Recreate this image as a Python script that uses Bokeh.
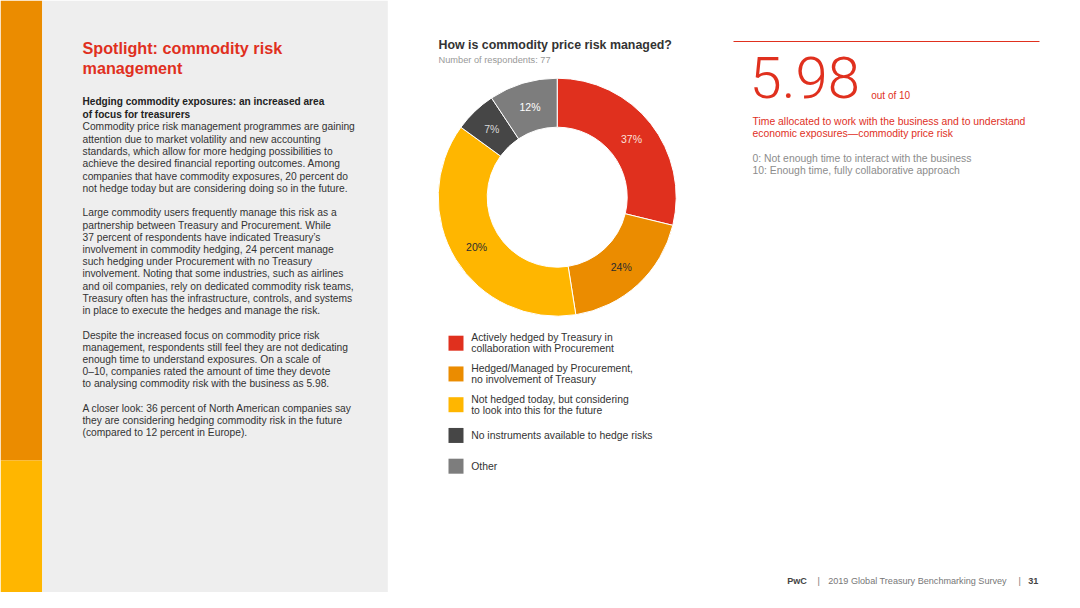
import math
from bokeh.plotting import figure
from bokeh.models import Range1d
from bokeh.core.properties import value
from bokeh.embed import file_html
from bokeh.resources import INLINE

# ---------------- data ----------------
categories = [
    "Actively hedged by Treasury in\ncollaboration with Procurement",
    "Hedged/Managed by Procurement,\nno involvement of Treasury",
    "Not hedged today, but considering\nto look into this for the future",
    "No instruments available to hedge risks",
    "Other",
]
# arc share of each slice as drawn in the reference (percent of the ring)
slice_shares = [28.8, 18.7, 37.5, 5.7, 9.3]
# percentages printed on the slices
slice_labels = ["37%", "24%", "20%", "7%", "12%"]
slice_colors = ["#E0301E", "#EB8C00", "#FFB600", "#464646", "#7D7D7D"]
label_colors = ["#FBE0DC", "#2D2D2D", "#2D2D2D", "#D9D9D9", "#FFFFFF"]
respondents = 77
score = 5.98
score_max = 10

title_lines = ["Spotlight: commodity risk", "management"]
heading_lines = ["Hedging commodity exposures: an increased area", "of focus for treasurers"]
para1 = [
    "Commodity price risk management programmes are gaining",
    "attention due to market volatility and new accounting",
    "standards, which allow for more hedging possibilities to",
    "achieve the desired financial reporting outcomes. Among",
    "companies that have commodity exposures, 20 percent do",
    "not hedge today but are considering doing so in the future.",
]
para2 = [
    "Large commodity users frequently manage this risk as a",
    "partnership between Treasury and Procurement. While",
    "37 percent of respondents have indicated Treasury\u2019s",
    "involvement in commodity hedging, 24 percent manage",
    "such hedging under Procurement with no Treasury",
    "involvement. Noting that some industries, such as airlines",
    "and oil companies, rely on dedicated commodity risk teams,",
    "Treasury often has the infrastructure, controls, and systems",
    "in place to execute the hedges and manage the risk.",
]
para3 = [
    "Despite the increased focus on commodity price risk",
    "management, respondents still feel they are not dedicating",
    "enough time to understand exposures. On a scale of",
    "0\u201310, companies rated the amount of time they devote",
    "to analysing commodity risk with the business as 5.98.",
]
para4 = [
    "A closer look: 36 percent of North American companies say",
    "they are considering hedging commodity risk in the future",
    "(compared to 12 percent in Europe).",
]
chart_title = "How is commodity price risk managed?"
score_caption = ["Time allocated to work with the business and to understand",
                 "economic exposures\u2014commodity price risk"]
scale_notes = ["0: Not enough time to interact with the business",
               "10: Enough time, fully collaborative approach"]
footer_parts = ["PwC", "|", "2019 Global Treasury Benchmarking Survey", "|", "31"]

# ---------------- layout ----------------
H = 608
FONT = "Liberation Sans"
RED = "#E0301E"


def Y(y):
    return H - y


p = figure(width=1064, height=592, x_range=Range1d(0, 1064), y_range=Range1d(16, 608),
           output_backend="svg", toolbar_location=None, min_border=0)
p.axis.visible = False
p.grid.visible = False
p.outline_line_color = None
p.background_fill_color = "white"
p.border_fill_color = "white"

# side panels
p.quad(left=[0], right=[41.7], top=[Y(0)], bottom=[Y(460)], fill_color="#EB8C00", line_color=None)
p.quad(left=[0], right=[41.7], top=[Y(460)], bottom=[Y(608)], fill_color="#FFB600", line_color=None)
p.quad(left=[41.7], right=[387.3], top=[Y(0)], bottom=[Y(608)], fill_color="#EEEEEE", line_color=None)


def txt(lines, x, y0, pitch, size, color, style="normal", font=FONT, baseline="middle", align="left"):
    n = len(lines)
    p.text(x=[x] * n, y=[Y(y0 + i * pitch) for i in range(n)], text=lines,
           text_font=value(font), text_font_size=f"{size}px", text_color=color,
           text_font_style=style, text_baseline=baseline, text_align=align)


# left column text
txt(title_lines, 82, 47, 20, 16.2, RED, "bold")
txt(heading_lines, 82, 101, 12.6, 10.1, "#222222", "bold")
txt(para1, 82, 126.3, 12.3, 10.25, "#333333")
txt(para2, 82, 212.3, 12.2, 10.25, "#333333")
txt(para3, 82, 334.7, 12.15, 10.25, "#333333")
txt(para4, 82, 408, 12.15, 10.25, "#333333")

# chart title
txt([chart_title], 438, 44, 0, 12.4, "#333333", "bold")
txt([f"Number of respondents: {respondents}"], 438, 59, 0, 9.25, "#999999")

# donut
cx, cy = 556.7, Y(196.7)
r_in, r_out = 70, 119
total = sum(slice_shares)
starts, ends, mids = [], [], []
cum = 0.0
for s in slice_shares:
    a0 = math.pi / 2 - 2 * math.pi * cum / total
    cum += s
    a1 = math.pi / 2 - 2 * math.pi * cum / total
    starts.append(a0)
    ends.append(a1)
    mids.append((a0 + a1) / 2)
p.annular_wedge(x=[cx] * len(slice_shares), y=[cy] * len(slice_shares),
                inner_radius=r_in, outer_radius=r_out,
                start_angle=starts, end_angle=ends, direction="clock",
                fill_color=slice_colors, line_color="white", line_width=1)
r_mid = (r_in + r_out) / 2
p.text(x=[cx + r_mid * math.cos(m) for m in mids], y=[cy + r_mid * math.sin(m) for m in mids],
       text=slice_labels, text_color=label_colors, text_font=value(FONT), text_font_size="10.5px",
       text_align="center", text_baseline="middle")

# legend
leg_y0, leg_pitch = 342.7, 30.75
p.rect(x=[455.5] * len(categories), y=[Y(leg_y0 + i * leg_pitch) for i in range(len(categories))],
       width=15, height=15, fill_color=slice_colors, line_color=None)
for i, c in enumerate(categories):
    lines = c.split("\n")
    yc = leg_y0 + i * leg_pitch
    pitch = 11.2
    first = yc - pitch * (len(lines) - 1) / 2
    txt(lines, 470.7, first, pitch, 10.4, "#333333")

# score block
p.segment(x0=[733], y0=[Y(41)], x1=[1039], y1=[Y(41)], line_color=RED, line_width=1)
txt([f"{score:.2f}"], 749, 76.5, 0, 58, RED, font="Roboto Light")
txt([f"out of {score_max}"], 870.7, 95, 0, 10, RED)
txt(score_caption, 752, 120.7, 12, 10.4, RED)
txt(scale_notes, 752, 158.3, 11.8, 10.4, "#8C8C8C")

# footer
fx = [786.7, 817, 827.7, 1018, 1027.7]
fstyle = ["bold", "normal", "normal", "normal", "bold"]
fcol = ["#444444", "#777777", "#777777", "#777777", "#444444"]
for x, t, s, c in zip(fx, footer_parts, fstyle, fcol):
    txt([t], x, 580, 0, 9.1, c, s)

open("out.html", "w").write(file_html(p, INLINE))
